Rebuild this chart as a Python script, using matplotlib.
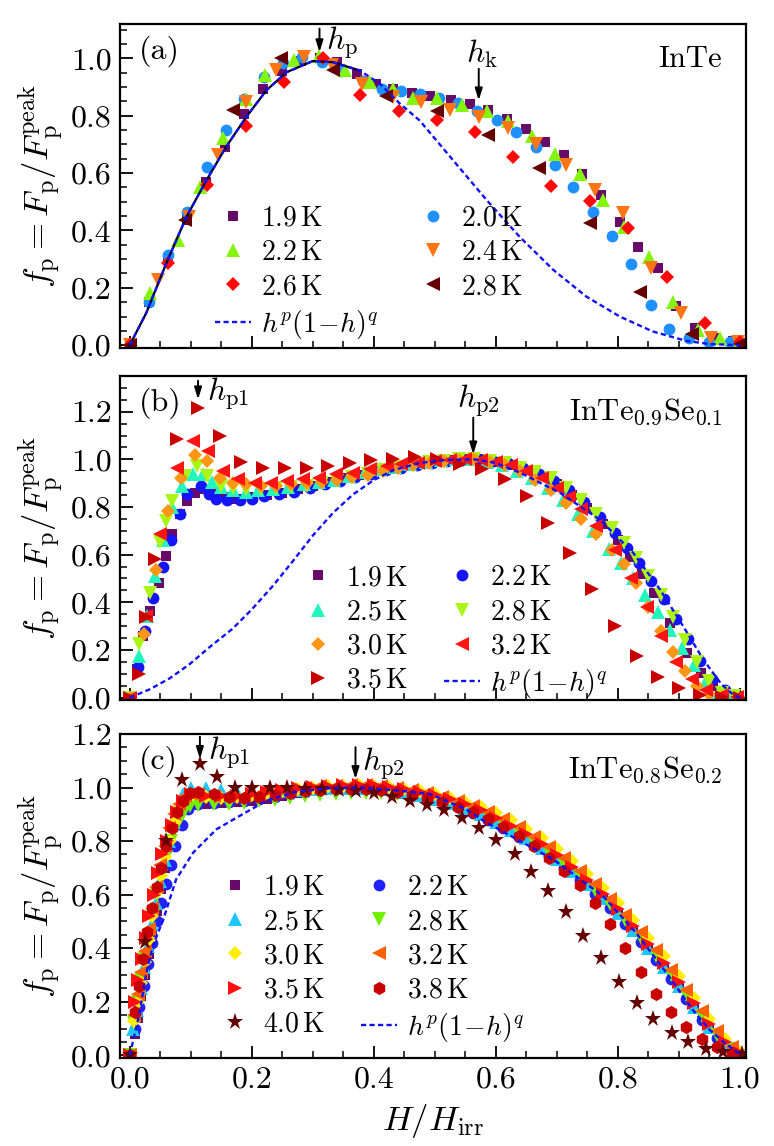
import matplotlib
matplotlib.use('Agg')
import matplotlib.pyplot as plt
from matplotlib.ticker import MultipleLocator, FormatStrFormatter

plt.rcParams['font.family'] = 'serif'
plt.rcParams['font.serif'] = ['cmr10', 'DejaVu Serif']
plt.rcParams['mathtext.fontset'] = 'cm'
plt.rcParams['axes.formatter.use_mathtext'] = True

# ---------------- panel (a): InTe ----------------
a19_x = [0.0, 0.031, 0.062, 0.094, 0.125, 0.156, 0.187, 0.219, 0.250, 0.281, 0.312, 0.340, 0.372, 0.403, 0.432, 0.462, 0.492, 0.526, 0.557, 0.587, 0.618, 0.649, 0.680, 0.711, 0.741, 0.772, 0.803, 0.833, 0.865, 0.896, 0.926, 0.957, 0.989]
a19_y = [0.0, 0.15, 0.30, 0.437, 0.57, 0.692, 0.805, 0.895, 0.955, 0.99, 1.0, 0.987, 0.947, 0.912, 0.895, 0.879, 0.868, 0.856, 0.842, 0.821, 0.788, 0.755, 0.709, 0.663, 0.597, 0.523, 0.431, 0.344, 0.268, 0.135, 0.060, 0.025, 0.015]
a20_x = [0.0, 0.032, 0.063, 0.094, 0.126, 0.157, 0.188, 0.220, 0.251, 0.283, 0.315, 0.347, 0.382, 0.414, 0.445, 0.476, 0.507, 0.538, 0.569, 0.602, 0.633, 0.666, 0.697, 0.727, 0.759, 0.791, 0.822, 0.854, 0.884, 0.917, 0.950, 0.983]
a20_y = [0.0, 0.152, 0.315, 0.465, 0.622, 0.750, 0.860, 0.935, 0.984, 1.005, 0.987, 0.958, 0.923, 0.895, 0.885, 0.875, 0.862, 0.845, 0.817, 0.784, 0.744, 0.692, 0.630, 0.552, 0.465, 0.382, 0.282, 0.139, 0.056, 0.025, 0.010, 0.010]
a22_x = [0.0, 0.033, 0.079, 0.115, 0.153, 0.191, 0.221, 0.269, 0.311, 0.352, 0.393, 0.432, 0.465, 0.503, 0.544, 0.585, 0.620, 0.659, 0.697, 0.738, 0.775, 0.810, 0.851, 0.891, 0.932, 0.967, 1.0]
a22_y = [0.0, 0.182, 0.367, 0.552, 0.721, 0.860, 0.941, 0.995, 1.007, 0.961, 0.918, 0.892, 0.863, 0.862, 0.837, 0.817, 0.782, 0.729, 0.668, 0.597, 0.506, 0.413, 0.307, 0.149, 0.054, 0.025, 0.010]
a24_x = [0.0, 0.046, 0.097, 0.145, 0.191, 0.239, 0.285, 0.332, 0.380, 0.432, 0.478, 0.525, 0.573, 0.620, 0.666, 0.715, 0.762, 0.809, 0.855, 0.904, 0.953, 0.997]
a24_y = [0.0, 0.228, 0.448, 0.663, 0.848, 0.961, 1.004, 0.976, 0.912, 0.865, 0.848, 0.821, 0.796, 0.759, 0.703, 0.628, 0.541, 0.460, 0.268, 0.112, 0.025, 0.010]
a26_x = [0.0, 0.063, 0.127, 0.191, 0.253, 0.316, 0.377, 0.441, 0.503, 0.566, 0.628, 0.691, 0.754, 0.817, 0.880, 0.943, 1.0]
a26_y = [0.0, 0.286, 0.558, 0.765, 0.918, 1.002, 0.871, 0.817, 0.787, 0.744, 0.655, 0.555, 0.504, 0.408, 0.239, 0.077, 0.010]
a28_x = [0.0, 0.090, 0.170, 0.248, 0.333, 0.420, 0.503, 0.587, 0.670, 0.754, 0.836, 0.921, 1.0]
a28_y = [0.0, 0.437, 0.821, 1.002, 0.961, 0.868, 0.817, 0.732, 0.619, 0.427, 0.184, 0.040, 0.005]
a_fit_x = [0.0, 0.027, 0.060, 0.093, 0.126, 0.158, 0.191, 0.224, 0.257, 0.300, 0.333, 0.377, 0.410, 0.443, 0.475, 0.530, 0.585, 0.639, 0.694, 0.748, 0.803, 0.857, 0.912, 0.950, 1.0]
a_fit_y = [0.0, 0.112, 0.286, 0.448, 0.576, 0.692, 0.796, 0.889, 0.952, 0.991, 0.987, 0.958, 0.912, 0.842, 0.784, 0.645, 0.506, 0.378, 0.263, 0.170, 0.100, 0.048, 0.015, 0.004, 0.0]
a_temps = ['1.9', '2.0', '2.2', '2.4', '2.6', '2.8']

# ---------------- panel (b): InTe0.9Se0.1 ----------------
b19_x = [0, 0.012, 0.022, 0.033, 0.048, 0.059, 0.070, 0.082, 0.094, 0.107, 0.118, 0.135, 0.155, 0.175, 0.20, 0.225, 0.25, 0.275, 0.30, 0.325, 0.35, 0.375, 0.40, 0.425, 0.45, 0.475, 0.50, 0.525, 0.55, 0.575, 0.60, 0.625, 0.65, 0.675, 0.70, 0.725, 0.75, 0.775, 0.80, 0.82, 0.84, 0.86, 0.885, 0.913, 0.937, 0.956, 0.975, 0.995]
b19_y = [0, 0.118, 0.258, 0.363, 0.479, 0.594, 0.685, 0.769, 0.825, 0.86, 0.875, 0.855, 0.84, 0.835, 0.84, 0.85, 0.86, 0.875, 0.89, 0.905, 0.92, 0.935, 0.95, 0.965, 0.975, 0.985, 0.993, 0.998, 1.0, 1.0, 0.99, 0.975, 0.955, 0.93, 0.895, 0.85, 0.795, 0.73, 0.66, 0.59, 0.52, 0.44, 0.313, 0.188, 0.104, 0.05, 0.02, 0.005]
b22_x = [0, 0.014, 0.025, 0.038, 0.055, 0.068, 0.082, 0.094, 0.116, 0.130, 0.142, 0.16, 0.18, 0.20, 0.22, 0.245, 0.27, 0.295, 0.32, 0.345, 0.37, 0.395, 0.42, 0.445, 0.47, 0.495, 0.52, 0.545, 0.57, 0.595, 0.62, 0.645, 0.67, 0.695, 0.72, 0.745, 0.77, 0.795, 0.815, 0.835, 0.855, 0.875, 0.895, 0.915, 0.935, 0.955, 0.975, 0.995]
b22_y = [0, 0.13, 0.28, 0.42, 0.55, 0.66, 0.77, 0.853, 0.89, 0.855, 0.835, 0.83, 0.83, 0.835, 0.845, 0.855, 0.865, 0.88, 0.895, 0.91, 0.925, 0.94, 0.955, 0.965, 0.975, 0.985, 0.993, 0.998, 1.0, 0.995, 0.985, 0.965, 0.94, 0.91, 0.87, 0.82, 0.76, 0.69, 0.63, 0.565, 0.49, 0.415, 0.33, 0.245, 0.155, 0.08, 0.03, 0.005]
b25_x = [0, 0.016, 0.028, 0.041, 0.055, 0.07, 0.086, 0.104, 0.12, 0.135, 0.15, 0.17, 0.19, 0.21, 0.235, 0.26, 0.285, 0.31, 0.335, 0.36, 0.385, 0.41, 0.435, 0.46, 0.485, 0.51, 0.535, 0.56, 0.585, 0.61, 0.635, 0.66, 0.685, 0.71, 0.735, 0.76, 0.785, 0.805, 0.825, 0.845, 0.865, 0.885, 0.905, 0.925, 0.945, 0.965, 0.985]
b25_y = [0, 0.174, 0.342, 0.51, 0.66, 0.80, 0.888, 0.937, 0.937, 0.905, 0.885, 0.87, 0.865, 0.87, 0.875, 0.885, 0.895, 0.905, 0.915, 0.93, 0.945, 0.958, 0.97, 0.98, 0.99, 0.997, 1.0, 1.0, 0.99, 0.975, 0.95, 0.92, 0.88, 0.83, 0.77, 0.70, 0.625, 0.565, 0.50, 0.43, 0.36, 0.285, 0.21, 0.135, 0.07, 0.025, 0.005]
b28_x = [0, 0.016, 0.033, 0.049, 0.060, 0.070, 0.090, 0.11, 0.127, 0.15, 0.17, 0.19, 0.215, 0.24, 0.265, 0.29, 0.315, 0.34, 0.365, 0.39, 0.415, 0.44, 0.465, 0.49, 0.515, 0.54, 0.565, 0.59, 0.615, 0.64, 0.665, 0.69, 0.715, 0.74, 0.765, 0.79, 0.81, 0.83, 0.85, 0.87, 0.89, 0.91, 0.93, 0.95, 0.97, 0.99]
b28_y = [0, 0.223, 0.44, 0.655, 0.74, 0.825, 0.93, 0.973, 0.93, 0.888, 0.88, 0.875, 0.875, 0.88, 0.885, 0.89, 0.90, 0.91, 0.925, 0.94, 0.955, 0.968, 0.978, 0.988, 0.995, 1.0, 1.0, 0.995, 0.985, 0.965, 0.945, 0.92, 0.88, 0.83, 0.77, 0.71, 0.65, 0.585, 0.51, 0.43, 0.34, 0.24, 0.15, 0.07, 0.02, 0.005]
b30_x = [0, 0.023, 0.043, 0.063, 0.084, 0.107, 0.126, 0.148, 0.169, 0.19, 0.215, 0.24, 0.265, 0.29, 0.315, 0.34, 0.365, 0.39, 0.415, 0.44, 0.465, 0.49, 0.515, 0.54, 0.565, 0.59, 0.615, 0.64, 0.665, 0.69, 0.715, 0.74, 0.765, 0.79, 0.81, 0.83, 0.85, 0.87, 0.89, 0.91, 0.93, 0.95, 0.97]
b30_y = [0, 0.268, 0.535, 0.783, 0.923, 1.02, 0.993, 0.923, 0.902, 0.895, 0.89, 0.89, 0.895, 0.90, 0.905, 0.915, 0.925, 0.935, 0.95, 0.962, 0.975, 0.985, 0.993, 0.998, 1.0, 0.99, 0.975, 0.95, 0.915, 0.87, 0.815, 0.75, 0.685, 0.62, 0.56, 0.48, 0.38, 0.28, 0.19, 0.11, 0.05, 0.015, 0.003]
b32_x = [0, 0.027, 0.049, 0.077, 0.104, 0.128, 0.153, 0.177, 0.205, 0.232, 0.257, 0.284, 0.311, 0.338, 0.366, 0.393, 0.421, 0.445, 0.472, 0.50, 0.525, 0.55, 0.575, 0.60, 0.625, 0.65, 0.675, 0.70, 0.72, 0.74, 0.765, 0.795, 0.822, 0.847, 0.871, 0.896, 0.921, 0.945, 0.97, 0.995]
b32_y = [0, 0.342, 0.685, 0.965, 1.077, 1.035, 0.951, 0.916, 0.902, 0.902, 0.909, 0.916, 0.923, 0.937, 0.944, 0.958, 0.972, 0.979, 0.986, 0.993, 0.998, 1.0, 0.998, 0.99, 0.975, 0.95, 0.92, 0.88, 0.84, 0.79, 0.72, 0.62, 0.50, 0.38, 0.26, 0.15, 0.076, 0.03, 0.01, 0.002]
b35_x = [0, 0.016, 0.027, 0.041, 0.077, 0.112, 0.148, 0.183, 0.219, 0.254, 0.290, 0.325, 0.361, 0.396, 0.432, 0.467, 0.503, 0.541, 0.577, 0.615, 0.651, 0.686, 0.722, 0.758, 0.795, 0.831, 0.865, 0.90, 0.935, 0.97, 1.0]
b35_y = [0, 0.10, 0.34, 0.58, 1.084, 1.217, 1.098, 0.99, 0.965, 0.965, 0.965, 0.972, 0.986, 0.996, 1.003, 1.01, 1.0, 0.979, 0.958, 0.916, 0.846, 0.734, 0.608, 0.454, 0.300, 0.174, 0.085, 0.04, 0.01, 0.003, 0.0]
b_fit_x = [0.0, 0.033, 0.065, 0.098, 0.13, 0.169, 0.2, 0.235, 0.268, 0.30, 0.333, 0.366, 0.40, 0.432, 0.475, 0.52, 0.565, 0.60, 0.639, 0.705, 0.77, 0.825, 0.869, 0.907, 0.94, 0.97, 0.99, 1.0]
b_fit_y = [0.0, 0.035, 0.08, 0.14, 0.21, 0.29, 0.37, 0.47, 0.575, 0.68, 0.775, 0.853, 0.913, 0.955, 0.985, 0.998, 1.0, 0.985, 0.945, 0.86, 0.748, 0.608, 0.454, 0.30, 0.16, 0.055, 0.01, 0.0]
b_temps = ['1.9', '2.2', '2.5', '2.8', '3.0', '3.2', '3.5']

# ---------------- panel (c): InTe0.8Se0.2 ----------------
c_grid_a = [0.100, 0.125, 0.150, 0.175, 0.200, 0.225, 0.250, 0.275, 0.300, 0.325, 0.350, 0.375, 0.400, 0.425, 0.450, 0.475, 0.500, 0.525, 0.550, 0.575, 0.600, 0.625, 0.650, 0.675, 0.700, 0.725, 0.750, 0.775, 0.800, 0.825, 0.850, 0.875, 0.900, 0.925, 0.950, 0.975, 1.000]
c_grid_b = [0.1125, 0.1375, 0.1625, 0.1875, 0.2125, 0.2375, 0.2625, 0.2875, 0.3125, 0.3375, 0.3625, 0.3875, 0.4125, 0.4375, 0.4625, 0.4875, 0.5125, 0.5375, 0.5625, 0.5875, 0.6125, 0.6375, 0.6625, 0.6875, 0.7125, 0.7375, 0.7625, 0.7875, 0.8125, 0.8375, 0.8625, 0.8875, 0.9125, 0.9375, 0.9625, 0.9875]
c19_x = [0.0, 0.008, 0.013, 0.019, 0.025, 0.031, 0.037, 0.044, 0.051, 0.058, 0.066, 0.075, 0.085] + c_grid_a
c19_y = [0.0, 0.08, 0.14, 0.22, 0.30, 0.38, 0.46, 0.54, 0.62, 0.70, 0.78, 0.86, 0.92,
         0.935, 0.94, 0.942, 0.945, 0.95, 0.958, 0.968, 0.978, 0.986, 0.992, 0.996, 0.998, 0.997, 0.993, 0.984, 0.973, 0.955, 0.937, 0.918, 0.895, 0.868, 0.838, 0.805, 0.768, 0.728, 0.684, 0.635, 0.582, 0.525, 0.463, 0.397, 0.326, 0.252, 0.175, 0.1, 0.035, 0.005]
c22_x = [0.0, 0.009, 0.016, 0.023, 0.030, 0.037, 0.044, 0.051, 0.059, 0.067, 0.075, 0.085, 0.095] + c_grid_b
c22_y = [0.0, 0.10, 0.18, 0.26, 0.34, 0.42, 0.50, 0.57, 0.64, 0.71, 0.78, 0.86, 0.92,
         0.94, 0.943, 0.945, 0.95, 0.957, 0.965, 0.975, 0.984, 0.99, 0.995, 0.998, 0.998, 0.995, 0.987, 0.975, 0.962, 0.945, 0.926, 0.904, 0.878, 0.848, 0.817, 0.782, 0.743, 0.701, 0.655, 0.604, 0.549, 0.489, 0.425, 0.357, 0.284, 0.209, 0.133, 0.065, 0.015]
c25_x = [0.0, 0.006, 0.012, 0.018, 0.024, 0.030, 0.036, 0.043, 0.050, 0.057, 0.064, 0.072, 0.080, 0.088] + c_grid_a
c25_y = [0.0, 0.10, 0.17, 0.25, 0.33, 0.41, 0.49, 0.57, 0.65, 0.73, 0.80, 0.87, 0.93, 0.975,
         1.0, 0.998, 0.99, 0.982, 0.98, 0.982, 0.986, 0.99, 0.994, 0.997, 0.999, 1.0, 0.998, 0.993, 0.983, 0.972, 0.958, 0.942, 0.923, 0.9, 0.873, 0.843, 0.81, 0.773, 0.733, 0.689, 0.64, 0.587, 0.53, 0.468, 0.402, 0.331, 0.257, 0.18, 0.105, 0.04, 0.006]
c28_x = [0.0, 0.007, 0.013, 0.019, 0.025, 0.031, 0.038, 0.045, 0.052, 0.060, 0.068, 0.077, 0.087, 0.098] + c_grid_b
c28_y = [0.0, 0.12, 0.20, 0.28, 0.36, 0.44, 0.52, 0.60, 0.67, 0.74, 0.80, 0.86, 0.90, 0.93,
         0.935, 0.938, 0.94, 0.943, 0.948, 0.955, 0.962, 0.968, 0.973, 0.977, 0.98, 0.981, 0.98, 0.976, 0.97, 0.962, 0.951, 0.936, 0.917, 0.892, 0.863, 0.832, 0.797, 0.758, 0.716, 0.67, 0.619, 0.564, 0.504, 0.44, 0.372, 0.299, 0.224, 0.148, 0.077, 0.025]
c30_x = [0.0, 0.007, 0.013, 0.019, 0.025, 0.031, 0.037, 0.044, 0.051, 0.058, 0.066, 0.074, 0.083, 0.092] + c_grid_a
c30_y = [0.0, 0.13, 0.20, 0.27, 0.35, 0.43, 0.52, 0.61, 0.67, 0.74, 0.80, 0.87, 0.93, 0.96,
         0.97, 0.965, 0.962, 0.965, 0.972, 0.98, 0.988, 0.995, 1.0, 1.004, 1.007, 1.008, 1.007, 1.003, 0.995, 0.986, 0.975, 0.962, 0.947, 0.928, 0.905, 0.878, 0.847, 0.81, 0.77, 0.727, 0.678, 0.625, 0.567, 0.505, 0.44, 0.37, 0.295, 0.215, 0.137, 0.062, 0.012]
c32_x = [0.0, 0.007, 0.013, 0.019, 0.025, 0.031, 0.037, 0.043, 0.050, 0.057, 0.064, 0.072, 0.080, 0.090, 0.100] + c_grid_b
c32_y = [0.0, 0.15, 0.23, 0.31, 0.39, 0.47, 0.55, 0.63, 0.71, 0.78, 0.85, 0.90, 0.94, 0.97, 0.975,
         0.975, 0.97, 0.967, 0.97, 0.977, 0.985, 0.992, 0.999, 1.004, 1.007, 1.009, 1.009, 1.006, 0.999, 0.99, 0.979, 0.966, 0.951, 0.933, 0.91, 0.883, 0.852, 0.817, 0.778, 0.736, 0.69, 0.639, 0.584, 0.524, 0.46, 0.392, 0.319, 0.244, 0.166, 0.09, 0.03]
c35_x = [0.0, 0.008, 0.014, 0.020, 0.026, 0.032, 0.039, 0.046, 0.053, 0.061, 0.069, 0.078, 0.088] + c_grid_a
c35_y = [0.0, 0.20, 0.28, 0.36, 0.44, 0.52, 0.60, 0.68, 0.75, 0.80, 0.86, 0.91, 0.95,
         0.975, 0.97, 0.968, 0.97, 0.975, 0.983, 0.99, 0.997, 1.002, 1.006, 1.009, 1.01, 1.008, 1.003, 0.994, 0.984, 0.971, 0.956, 0.938, 0.915, 0.888, 0.858, 0.825, 0.788, 0.748, 0.704, 0.655, 0.602, 0.545, 0.483, 0.417, 0.346, 0.272, 0.195, 0.118, 0.05, 0.01]
c38_x = [0.0, 0.008, 0.015, 0.022, 0.029, 0.036, 0.044, 0.052, 0.060, 0.069, 0.078, 0.088, 0.099] + c_grid_b
c38_y = [0.0, 0.16, 0.26, 0.36, 0.46, 0.55, 0.63, 0.70, 0.78, 0.85, 0.91, 0.95, 0.98,
         0.985, 0.975, 0.965, 0.962, 0.965, 0.972, 0.98, 0.987, 0.99, 0.993, 0.994, 0.993, 0.99, 0.983, 0.972, 0.96, 0.945, 0.928, 0.907, 0.882, 0.853, 0.82, 0.782, 0.738, 0.69, 0.635, 0.57, 0.49, 0.40, 0.31, 0.23, 0.16, 0.105, 0.06, 0.03, 0.01]
c40_x = [0.0, 0.025, 0.060, 0.086, 0.115, 0.143, 0.172, 0.201, 0.230, 0.258, 0.287, 0.315, 0.343, 0.371, 0.401, 0.430, 0.459, 0.487, 0.515, 0.544, 0.573, 0.601, 0.631, 0.658, 0.686, 0.715, 0.743, 0.773, 0.802, 0.831, 0.858, 0.888, 0.915, 0.945, 0.973, 1.003]
c40_y = [0.0, 0.425, 0.800, 1.028, 1.088, 1.038, 1.0, 1.0, 0.998, 0.997, 0.995, 0.993, 0.99, 0.988, 0.981, 0.966, 0.95, 0.935, 0.917, 0.888, 0.850, 0.804, 0.750, 0.684, 0.612, 0.534, 0.444, 0.363, 0.275, 0.196, 0.134, 0.083, 0.05, 0.025, 0.012, 0.006]
c_fit_x = [0.0, 0.016, 0.027, 0.038, 0.055, 0.076, 0.104, 0.142, 0.180, 0.224, 0.268, 0.322, 0.377, 0.443, 0.492, 0.55, 0.585, 0.694, 0.776, 0.830, 0.880, 0.923, 0.951, 0.973, 1.0]
c_fit_y = [0.0, 0.156, 0.306, 0.41, 0.507, 0.657, 0.757, 0.844, 0.894, 0.951, 0.982, 0.997, 1.0, 0.988, 0.976, 0.92, 0.869, 0.732, 0.594, 0.457, 0.307, 0.169, 0.094, 0.05, 0.005]
c_temps = ['1.9', '2.2', '2.5', '2.8', '3.0', '3.2', '3.5', '3.8', '4.0']

# marker sizes (points)
sty = {'s': 7.5, 'o': 8.5, '^': 9.5, 'v': 9.5, '<': 9.5, '>': 9.5, 'D': 7.0, 'h': 9.5, '*': 12.5}

panels = [
    dict(series=[(a19_x, a19_y, 's', '#680a68'), (a20_x, a20_y, 'o', '#1e90ff'),
                 (a22_x, a22_y, '^', '#84f50c'), (a24_x, a24_y, 'v', '#ff7514'),
                 (a26_x, a26_y, 'D', '#ff0a0a'), (a28_x, a28_y, '<', '#640000')],
         temps=a_temps, fit=(a_fit_x, a_fit_y), ymax=1.12, pos=0.6963, letter='(a)',
         name='InTe', leg=(0.152, 0.44)),
    dict(series=[(b19_x, b19_y, 's', '#680a68'), (b22_x, b22_y, 'o', '#1414ff'),
                 (b25_x, b25_y, '^', '#22f5be'), (b28_x, b28_y, 'v', '#aaf514'),
                 (b30_x, b30_y, 'D', '#ff9614'), (b32_x, b32_y, '<', '#ff1414'),
                 (b35_x, b35_y, '>', '#c80000')],
         temps=b_temps, fit=(b_fit_x, b_fit_y), ymax=1.35, pos=0.3892, letter='(b)',
         name=r'InTe$_{0.9}$Se$_{0.1}$', leg=(0.288, 0.417)),
    dict(series=[(c19_x, c19_y, 's', '#680a68'), (c22_x, c22_y, 'o', '#2222ff'),
                 (c25_x, c25_y, '^', '#1ec8ff'), (c28_x, c28_y, 'v', '#70f000'),
                 (c30_x, c30_y, 'D', '#ffee00'), (c32_x, c32_y, '<', '#ff6000'),
                 (c35_x, c35_y, '>', '#ff1010'), (c38_x, c38_y, 'h', '#c80000'),
                 (c40_x, c40_y, '*', '#640000')],
         temps=c_temps, fit=(c_fit_x, c_fit_y), ymax=1.2, pos=0.0768, letter='(c)',
         name=r'InTe$_{0.8}$Se$_{0.2}$', leg=(0.155, 0.566)),
]

fig = plt.figure(figsize=(7.74, 11.46), dpi=100)
fit_label = r'$h^{p}(1\!-\!h)^{q}$'

axes = []
for p in panels:
    ax = fig.add_axes([0.155, p['pos'], 0.8088, 0.2827])
    axes.append(ax)
    handles = []
    for (x, y, m, c), t in zip(p['series'], p['temps']):
        h, = ax.plot(x, y, ls='none', marker=m, ms=sty[m], color=c, mew=0,
                     label=r'$%s\,\mathrm{K}$' % t)
        handles.append(h)
    if p['letter'] == '(a)':
        ax.plot(p['fit'][0][:12], p['fit'][1][:12], color='k', lw=1.6, zorder=4)
    fl, = ax.plot(p['fit'][0], p['fit'][1], color='#1010ff', lw=1.7,
                  ls=(0, (2.2, 1.4)), zorder=5, label=fit_label)
    n = len(handles)
    if n % 2 == 0:
        # even number of series: dashed fit closes the first column
        order = handles[0:n:2] + [fl] + handles[1:n:2]
    else:
        order = handles[0:n:2] + handles[1:n:2] + [fl]
    ax.legend(order, [h.get_label() for h in order], ncol=2, loc='upper left',
              bbox_to_anchor=p['leg'], frameon=False, fontsize=20,
              handlelength=1.3, handletextpad=0.35, columnspacing=1.3,
              labelspacing=0.28, borderpad=0, borderaxespad=0)

    ax.set_xlim(-0.016, 1.01)
    ax.set_ylim(-0.01, p['ymax'])
    ax.xaxis.set_major_locator(MultipleLocator(0.2))
    ax.xaxis.set_minor_locator(MultipleLocator(0.05))
    ax.yaxis.set_major_locator(MultipleLocator(0.2))
    ax.yaxis.set_minor_locator(MultipleLocator(0.05))
    ax.xaxis.set_major_formatter(FormatStrFormatter('%.1f'))
    ax.yaxis.set_major_formatter(FormatStrFormatter('%.1f'))
    ax.tick_params(which='both', direction='in', top=False, right=False,
                   labelsize=23, pad=6)
    ax.tick_params(which='major', length=9, width=1.3)
    ax.tick_params(which='minor', length=5, width=1.1)
    for s in ax.spines.values():
        s.set_linewidth(1.6)
    ax.set_ylabel(r'$f_{\rm p}=F_{\rm p}/F_{\rm p}^{\rm peak}$', fontsize=25, labelpad=4)
    ax.text(0.03, 0.915, p['letter'], transform=ax.transAxes, fontsize=23,
            ha='left', va='center')
    ax.text(0.962, 0.89, p['name'], transform=ax.transAxes, fontsize=22,
            ha='right', va='center')
    if p['letter'] != '(c)':
        ax.tick_params(labelbottom=False)


def arrow(ax, x, y_tail, y_tip):
    ax.annotate('', xy=(x, y_tip), xytext=(x, y_tail),
                arrowprops=dict(arrowstyle='-|>,head_width=0.22,head_length=0.7',
                                color='k', lw=1.4, shrinkA=0, shrinkB=0), zorder=10)


ax_a, ax_b, ax_c = axes
arrow(ax_a, 0.311, 1.104, 1.022)
ax_a.text(0.322, 1.055, r'$h_{\rm p}$', fontsize=23, ha='left', va='center')
arrow(ax_a, 0.572, 0.964, 0.854)
ax_a.text(0.578, 1.015, r'$h_{\rm k}$', fontsize=23, ha='center', va='center')

arrow(ax_b, 0.112, 1.33, 1.252)
ax_b.text(0.126, 1.275, r'$h_{\rm p1}$', fontsize=23, ha='left', va='center')
arrow(ax_b, 0.563, 1.175, 1.021)
ax_b.text(0.572, 1.245, r'$h_{\rm p2}$', fontsize=23, ha='center', va='center')

arrow(ax_c, 0.115, 1.19, 1.107)
ax_c.text(0.129, 1.13, r'$h_{\rm p1}$', fontsize=23, ha='left', va='center')
arrow(ax_c, 0.370, 1.151, 1.032)
ax_c.text(0.38, 1.09, r'$h_{\rm p2}$', fontsize=23, ha='left', va='center')

ax_c.set_xlabel(r'$H/H_{\rm irr}$', fontsize=25, labelpad=6)

fig.savefig('out.png', dpi=100)
